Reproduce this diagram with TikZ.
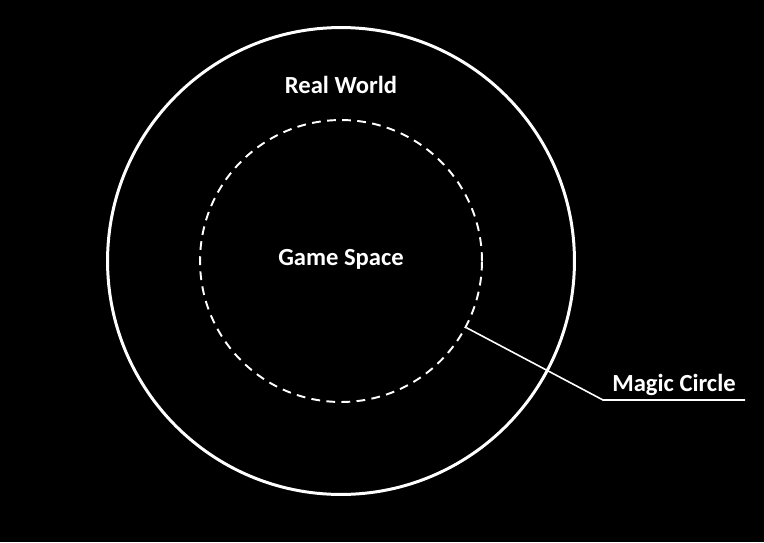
\documentclass[tikz,border=0pt]{standalone}
\usepackage{fontspec}
\setmainfont{Carlito}
\usetikzlibrary{positioning, calc}
\tikzset{
    world/.style={circle, draw=white, line width=1.7pt, minimum size=9.34cm, inner sep=0pt},
    magic/.style={circle, draw=white, line width=1.1pt, dash pattern=on 5pt off 3.6pt, minimum size=5.64cm, inner sep=0pt},
    label/.style={text=white, font=\fontsize{14}{16}\selectfont\bfseries},
    leader/.style={draw=white, line width=0.9pt}
}
\begin{document}
\begin{tikzpicture}[x=0.02cm, y=-0.02cm]

    % Background
    \fill[black] (0,0) rectangle (764,542);
    \useasboundingbox (0,0) rectangle (764,542);

    % Circles
    \node (real_world) [world] at (341,261) {};
    \node (game_space) [magic] at (341,261) {};

    % Labels
    \node (real_lbl) [label] at (341,85) {Real World};
    \node (game_lbl) [label] at (341,259) {Game Space};

    % Leader for the magic circle
    \coordinate (bend) at (603,400);
    \coordinate (tail) at (745,400);
    \draw [leader] (game_space.-28) -- (bend) -- node[label, above=-1.5pt] (magic_lbl) {Magic Circle} (tail);

\end{tikzpicture}
\end{document}
